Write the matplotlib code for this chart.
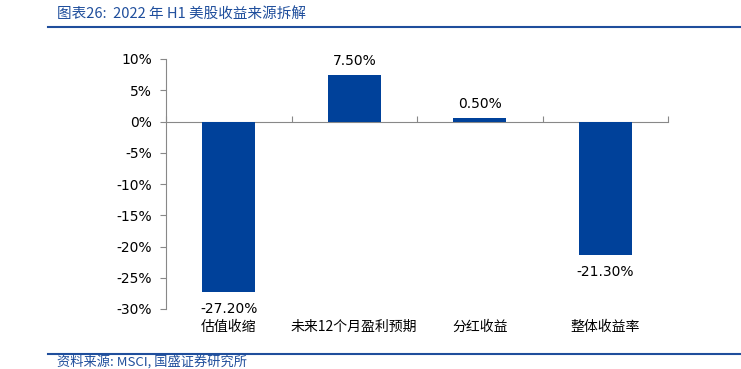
import numpy as np
import matplotlib.pyplot as plt

plt.rcParams['font.family'] = ['DejaVu Sans', 'Noto Sans CJK SC']

categories = ["估值收缩", "未来12个月盈利预期", "分红收益", "整体收益率"]
values = [-27.2, 7.5, 0.5, -21.3]
value_labels = ["-27.20%", "7.50%", "0.50%", "-21.30%"]
yticks = [10, 5, 0, -5, -10, -15, -20, -25, -30]

bar_color = "#00419A"
title_color = "#1F4E9C"
cjk = ['Noto Sans CJK SC', 'DejaVu Sans']

fig = plt.figure(figsize=(7.41, 3.69), dpi=100)
ax = fig.add_axes([166 / 741, 1 - 309 / 369, (668 - 166) / 741, (309 - 59) / 369])

x = np.arange(len(categories))
ax.bar(x, values, width=0.42, color=bar_color, zorder=3)

ax.set_xlim(-0.5, len(categories) - 0.5)
ax.set_ylim(-30, 10)
ax.set_yticks(yticks)
ax.set_yticklabels([f"{v}%" for v in yticks], fontsize=10)
ax.tick_params(axis='y', direction='out', length=4, color='#888888', pad=6)

ax.spines['top'].set_visible(False)
ax.spines['right'].set_visible(False)
ax.spines['left'].set_color('#888888')
ax.spines['bottom'].set_position(('data', 0))
ax.spines['bottom'].set_color('#888888')
ax.set_xticks(np.arange(len(categories) + 1) - 0.5)
ax.set_xticklabels([])
ax.tick_params(axis='x', direction='in', length=4, color='#888888')

for xi, v, lab in zip(x, values, value_labels):
    if v >= 0:
        ax.text(xi, v + 1.1, lab, ha='center', va='bottom', fontsize=10)
    else:
        ax.text(xi, v - 1.7, lab, ha='center', va='top', fontsize=10)

for xi, c in zip(x, categories):
    ax.text(xi, -31.8, c, ha='center', va='top', fontsize=10, family=cjk)

# title and source
fig.text(57 / 741, 1 - 14 / 369, "图表26:  2022 年 H1 美股收益来源拆解", fontsize=10.5,
         style='italic', color=title_color, va='center', family=cjk)
fig.add_artist(plt.Line2D([48 / 741, 1], [1 - 27 / 369] * 2, color=title_color, lw=1.5))
fig.add_artist(plt.Line2D([48 / 741, 1], [1 - 354 / 369] * 2, color=title_color, lw=1.5))
fig.text(57 / 741, 1 - 362 / 369, "资料来源: MSCI, 国盛证券研究所", fontsize=9.5,
         style='italic', color=title_color, va='center', family=cjk)

fig.savefig("out.png", dpi=100)
